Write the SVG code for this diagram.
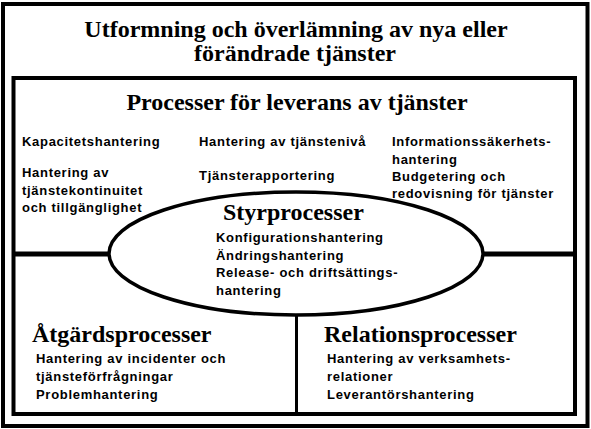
<svg xmlns="http://www.w3.org/2000/svg" width="591" height="429" viewBox="0 0 591 429">
<style>
.frame{fill:none;stroke:#000;stroke-width:4}
.title{font-family:"Liberation Serif","Times New Roman",serif;font-weight:bold;font-size:24px;fill:#000}
.item{font-family:"Liberation Sans",Arial,sans-serif;font-weight:bold;font-size:13px;letter-spacing:0.7px;fill:#000}
.conn{stroke:#000;fill:none}
</style>
<rect x="0" y="0" width="591" height="429" fill="#fff"/>
<g id="outer">
<rect class="frame" x="3" y="4" width="584.5" height="422"/>
<text class="title" x="296" y="37" text-anchor="middle">Utformning och överlämning av nya eller</text>
<text class="title" x="295" y="61" text-anchor="middle">förändrade tjänster</text>
</g>
<g id="leverans">
<rect class="frame" x="13.5" y="78" width="561.5" height="336"/>
<text class="title" x="297" y="110" text-anchor="middle">Processer för leverans av tjänster</text>
<text class="item" x="22" y="146">Kapacitetshantering</text>
<text class="item" x="22" y="177">Hantering av</text>
<text class="item" x="22" y="195">tjänstekontinuitet</text>
<text class="item" x="22" y="212">och tillgänglighet</text>
<text class="item" x="199" y="146">Hantering av tjänstenivå</text>
<text class="item" x="199" y="180">Tjänsterapportering</text>
<text class="item" x="392" y="146">Informationssäkerhets-</text>
<text class="item" x="392" y="164">hantering</text>
<text class="item" x="392" y="181">Budgetering och</text>
<text class="item" x="392" y="198">redovisning för tjänster</text>
</g>
<g id="connectors">
<line class="conn" x1="13.5" y1="254" x2="110" y2="254" stroke-width="5"/>
<line class="conn" x1="482" y1="254" x2="575" y2="254" stroke-width="5"/>
<line class="conn" x1="296.5" y1="315" x2="296.5" y2="414" stroke-width="3"/>
</g>
<g id="styr">
<ellipse cx="296" cy="253.5" rx="187" ry="61.5" fill="#fff" stroke="#000" stroke-width="3.5"/>
<text class="title" x="223" y="220">Styrprocesser</text>
<text class="item" x="216" y="242">Konfigurationshantering</text>
<text class="item" x="216" y="260">Ändringshantering</text>
<text class="item" x="216" y="277">Release- och driftsättings-</text>
<text class="item" x="216" y="295">hantering</text>
</g>
<g id="atgard">
<text class="title" x="32" y="342">Åtgärdsprocesser</text>
<text class="item" x="36" y="363">Hantering av incidenter och</text>
<text class="item" x="36" y="381">tjänsteförfrågningar</text>
<text class="item" x="36" y="399">Problemhantering</text>
</g>
<g id="relation">
<text class="title" x="324" y="342">Relationsprocesser</text>
<text class="item" x="327" y="363">Hantering av verksamhets-</text>
<text class="item" x="327" y="381">relationer</text>
<text class="item" x="327" y="399">Leverantörshantering</text>
</g>
</svg>
